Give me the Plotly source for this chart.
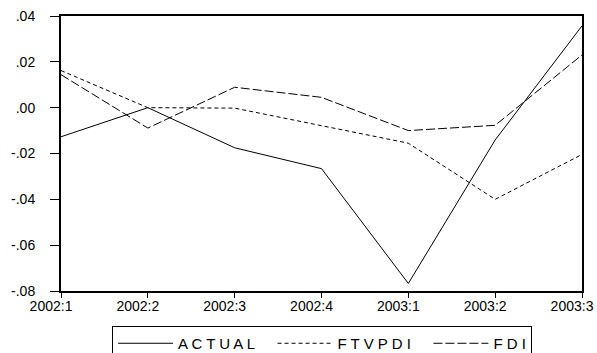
import plotly.graph_objects as go

# Quarterly periods
periods = ["2002:1", "2002:2", "2002:3", "2002:4", "2003:1", "2003:2", "2003:3"]

# Series values
actual = [-0.0127, 0.0000, -0.0175, -0.0266, -0.0767, -0.0141, 0.0357]
ftvpdi = [0.0162, 0.0000, -0.0002, -0.0080, -0.0155, -0.0400, -0.0204]
fdi = [0.0144, -0.0089, 0.0089, 0.0045, -0.0100, -0.0077, 0.0230]

# Axis ticks
y_ticks = [0.04, 0.02, 0.00, -0.02, -0.04, -0.06, -0.08]
y_tick_labels = [".04", ".02", ".00", "-.02", "-.04", "-.06", "-.08"]

font_family = "Liberation Sans, Arial, sans-serif"
pad = "\u00a0\u00a0\u00a0"

fig = go.Figure()
fig.add_trace(go.Scatter(
    x=periods, y=actual, mode="lines", name="A C T U A L" + pad,
    line=dict(color="black", width=1),
))
fig.add_trace(go.Scatter(
    x=periods, y=ftvpdi, mode="lines", name="F T V P D I" + pad,
    line=dict(color="black", width=1, dash="4px,3px"),
))
fig.add_trace(go.Scatter(
    x=periods, y=fdi, mode="lines", name="F D I",
    line=dict(color="black", width=1, dash="9px,3px"),
))

fig.update_layout(
    width=597, height=353,
    margin=dict(l=61, r=15, t=16, b=62, autoexpand=False),
    paper_bgcolor="white", plot_bgcolor="white",
    font=dict(family=font_family, size=14, color="black"),
    showlegend=True,
    legend=dict(
        orientation="h",
        x=0.098, xanchor="left",
        y=-0.1273, yanchor="top",
        bordercolor="black", borderwidth=1,
        bgcolor="white",
        itemwidth=55,
        font=dict(family=font_family, size=15, color="black"),
        tracegroupgap=0,
    ),
)

fig.update_xaxes(
    type="category",
    range=[0, len(periods) - 1],
    showgrid=False, zeroline=False,
    showline=True, linecolor="black", linewidth=2, mirror=True,
    ticks="outside", ticklen=5, tickcolor="black", tickwidth=1,
    ticklabelshift=-10, ticklabelstandoff=-4,
    tickfont=dict(family=font_family, size=14, color="black"),
)
fig.update_yaxes(
    range=[-0.08, 0.04],
    tickvals=y_ticks, ticktext=y_tick_labels,
    showgrid=False, zeroline=False,
    showline=True, linecolor="black", linewidth=2, mirror=True,
    ticks="outside", ticklen=9, tickcolor="black", tickwidth=1,
    ticklabelstandoff=12,
    tickfont=dict(family=font_family, size=14, color="black"),
)

fig.write_html("out.html")
